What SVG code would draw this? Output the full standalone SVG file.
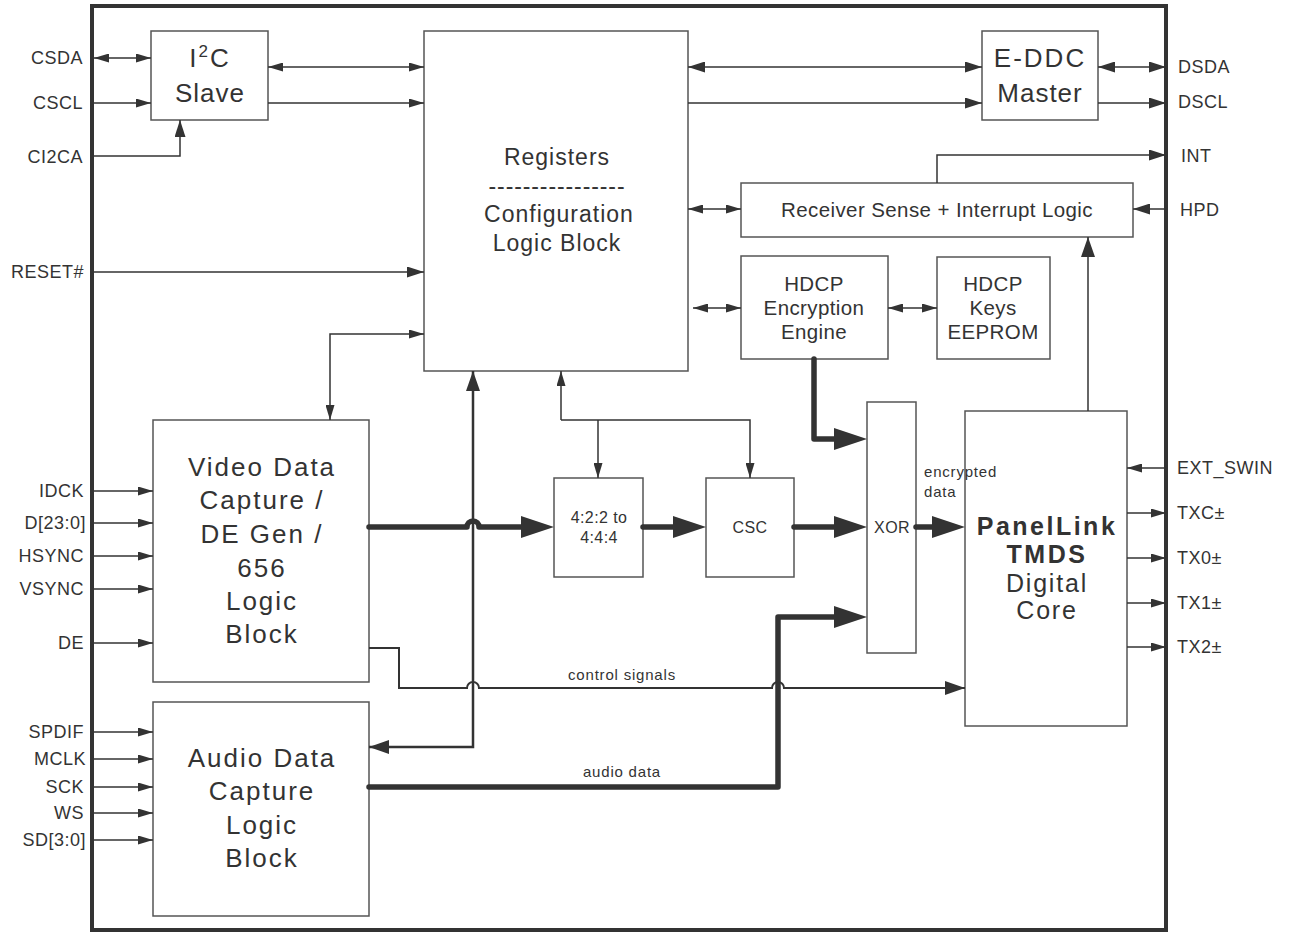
<svg xmlns="http://www.w3.org/2000/svg" width="1290" height="933" viewBox="0 0 1290 933">
<defs>
<style>
text{font-family:"Liberation Sans",Arial,sans-serif;fill:#333}
.lbl{font-size:18px;letter-spacing:0.5px}
.big{font-size:26px;letter-spacing:2px}
.reg{font-size:23px;letter-spacing:1px}
.mid{font-size:20.5px;letter-spacing:0.4px}
.sm{font-size:16px;letter-spacing:0.4px}
.tiny{font-size:15px;letter-spacing:0.8px}
.pb{font-size:25px;font-weight:bold;letter-spacing:2.5px}
.pn{font-size:25px;letter-spacing:1.8px}
.box{fill:#fff;stroke:#555;stroke-width:1.5}
.frame{fill:none;stroke:#333;stroke-width:4}
.t{fill:none;stroke:#333;stroke-width:1.5}
.c{fill:none;stroke:#333;stroke-width:2}
.m{fill:none;stroke:#333;stroke-width:2.5}
.k{fill:none;stroke:#333;stroke-width:5.5;stroke-linecap:round;stroke-linejoin:round}
</style>
<marker id="s" markerUnits="userSpaceOnUse" markerWidth="15" markerHeight="9" refX="15" refY="4.5" orient="auto-start-reverse"><path d="M0,0 L15,4.5 L0,9 z" fill="#333"/></marker>
<marker id="b" markerUnits="userSpaceOnUse" markerWidth="17" markerHeight="11" refX="17" refY="5.5" orient="auto-start-reverse"><path d="M0,0 L17,5.5 L0,11 z" fill="#333"/></marker>
<marker id="m" markerUnits="userSpaceOnUse" markerWidth="20" markerHeight="14" refX="20" refY="7" orient="auto-start-reverse"><path d="M0,0 L20,7 L0,14 z" fill="#333"/></marker>
<marker id="L" markerUnits="userSpaceOnUse" markerWidth="33" markerHeight="22" refX="3" refY="11" orient="auto-start-reverse"><path d="M0,0 L33,11 L0,22 z" fill="#333"/></marker>
</defs>
<rect width="1290" height="933" fill="#fff"/>
<rect class="frame" x="92" y="6" width="1074" height="924"/>

<g id="i2c">
<rect class="box" x="151" y="31" width="117" height="89"/>
<text class="big" x="210" y="67" text-anchor="middle">I<tspan font-size="17" dy="-10">2</tspan><tspan dy="10">C</tspan></text>
<text class="big" x="210" y="102" text-anchor="middle" style="letter-spacing:1px">Slave</text>
</g>
<g id="registers">
<rect class="box" x="424" y="31" width="264" height="340"/>
<text class="reg" x="557" y="165" text-anchor="middle">Registers</text>
<text class="reg" x="557" y="194" text-anchor="middle" style="letter-spacing:0.9px">----------------</text>
<text class="reg" x="559" y="222" text-anchor="middle">Configuration</text>
<text class="reg" x="557" y="251" text-anchor="middle">Logic Block</text>
</g>
<g id="eddc">
<rect class="box" x="982" y="31" width="116" height="89"/>
<text class="big" x="1040" y="67" text-anchor="middle">E-DDC</text>
<text class="big" x="1040" y="102" text-anchor="middle" style="letter-spacing:1px">Master</text>
</g>
<g id="receiver">
<rect class="box" x="741" y="183" width="392" height="54"/>
<text class="mid" x="937" y="217" text-anchor="middle">Receiver Sense + Interrupt Logic</text>
</g>
<g id="hdcp-engine">
<rect class="box" x="741" y="256" width="147" height="103"/>
<text class="mid" x="814" y="291" text-anchor="middle">HDCP</text>
<text class="mid" x="814" y="315" text-anchor="middle">Encryption</text>
<text class="mid" x="814" y="339" text-anchor="middle">Engine</text>
</g>
<g id="hdcp-keys">
<rect class="box" x="937" y="257" width="113" height="102"/>
<text class="mid" x="993" y="291" text-anchor="middle">HDCP</text>
<text class="mid" x="993" y="315" text-anchor="middle">Keys</text>
<text class="mid" x="993" y="339" text-anchor="middle">EEPROM</text>
</g>
<g id="video">
<rect class="box" x="153" y="420" width="216" height="262"/>
<text class="big" x="262" y="476" text-anchor="middle">Video Data</text>
<text class="big" x="262" y="509" text-anchor="middle">Capture /</text>
<text class="big" x="262" y="543" text-anchor="middle">DE Gen /</text>
<text class="big" x="262" y="577" text-anchor="middle">656</text>
<text class="big" x="262" y="610" text-anchor="middle">Logic</text>
<text class="big" x="262" y="643" text-anchor="middle">Block</text>
</g>
<g id="audio">
<rect class="box" x="153" y="702" width="216" height="214"/>
<text class="big" x="262" y="767" text-anchor="middle">Audio Data</text>
<text class="big" x="262" y="800" text-anchor="middle">Capture</text>
<text class="big" x="262" y="834" text-anchor="middle">Logic</text>
<text class="big" x="262" y="867" text-anchor="middle">Block</text>
</g>
<g id="conv422">
<rect class="box" x="554" y="478" width="89" height="99"/>
<text class="sm" x="599" y="523" text-anchor="middle">4:2:2 to</text>
<text class="sm" x="599" y="543" text-anchor="middle">4:4:4</text>
</g>
<g id="csc">
<rect class="box" x="706" y="478" width="88" height="99"/>
<text class="sm" x="750" y="533" text-anchor="middle">CSC</text>
</g>
<g id="xor">
<rect class="box" x="867" y="402" width="49" height="251"/>
<text class="sm" x="892" y="533" text-anchor="middle">XOR</text>
</g>
<g id="panellink">
<rect class="box" x="965" y="411" width="162" height="315"/>
<text class="pb" x="1047" y="535" text-anchor="middle">PanelLink</text>
<text class="pb" x="1047" y="563" text-anchor="middle">TMDS</text>
<text class="pn" x="1047" y="592" text-anchor="middle">Digital</text>
<text class="pn" x="1047" y="619" text-anchor="middle">Core</text>
</g>

<g id="connectors">
<path class="t" d="M94,58 H151" marker-start="url(#s)" marker-end="url(#s)"/>
<path class="t" d="M94,103 H151" marker-end="url(#s)"/>
<path class="t" d="M94,156 H180 V120" marker-end="url(#b)"/>
<path class="t" d="M268,67 H424" marker-start="url(#s)" marker-end="url(#s)"/>
<path class="t" d="M268,103 H424" marker-end="url(#s)"/>
<path class="t" d="M94,272 H424" marker-end="url(#b)"/>
<path class="t" d="M688,67 H982" marker-start="url(#b)" marker-end="url(#b)"/>
<path class="t" d="M688,103 H982" marker-end="url(#b)"/>
<path class="t" d="M1098,67 H1166" marker-start="url(#b)" marker-end="url(#b)"/>
<path class="t" d="M1098,103 H1166" marker-end="url(#b)"/>
<path class="t" d="M937,183 V155 H1166" marker-end="url(#b)"/>
<path class="t" d="M1166,209 H1133" marker-end="url(#b)"/>
<path class="t" d="M688,209 H741" marker-start="url(#s)" marker-end="url(#s)"/>
<path class="t" d="M693,308 H741" marker-start="url(#s)" marker-end="url(#s)"/>
<path class="t" d="M888,308 H937" marker-start="url(#s)" marker-end="url(#s)"/>
<path class="t" d="M1088,411 V237" marker-end="url(#m)"/>
<path class="t" d="M424,334 H330 V420" marker-start="url(#s)" marker-end="url(#s)"/>
<path class="t" d="M561,420 V371" marker-end="url(#s)"/>
<path class="t" d="M561,420 H750 V478" marker-end="url(#s)"/>
<path class="t" d="M598,420 V478" marker-end="url(#s)"/>
<path class="t" d="M94,491 H153" marker-end="url(#s)"/>
<path class="t" d="M94,523 H153" marker-end="url(#s)"/>
<path class="t" d="M94,556 H153" marker-end="url(#s)"/>
<path class="t" d="M94,589 H153" marker-end="url(#s)"/>
<path class="t" d="M94,643 H153" marker-end="url(#s)"/>
<path class="t" d="M94,732 H153" marker-end="url(#s)"/>
<path class="t" d="M94,759 H153" marker-end="url(#s)"/>
<path class="t" d="M94,787 H153" marker-end="url(#s)"/>
<path class="t" d="M94,813 H153" marker-end="url(#s)"/>
<path class="t" d="M94,840 H153" marker-end="url(#s)"/>
<path class="t" d="M1166,468 H1127" marker-end="url(#s)"/>
<path class="t" d="M1127,513 H1166" marker-end="url(#s)"/>
<path class="t" d="M1127,558 H1166" marker-end="url(#s)"/>
<path class="t" d="M1127,603 H1166" marker-end="url(#s)"/>
<path class="t" d="M1127,647 H1166" marker-end="url(#s)"/>
<path class="c" d="M369,648 H399 V688 H467 A6,6 0 0 1 479,688 H772 A6,6 0 0 1 784,688 H965" marker-end="url(#m)"/>
<path class="m" d="M369,747 H473 V371" marker-start="url(#m)" marker-end="url(#m)"/>
<path class="k" d="M369,527 H467 A6,6 0 0 1 479,527 H524" marker-end="url(#L)"/>
<path class="k" d="M643,527 H676" marker-end="url(#L)"/>
<path class="k" d="M794,527 H837" marker-end="url(#L)"/>
<path class="k" d="M916,527 H935" marker-end="url(#L)"/>
<path class="k" d="M814,359 V439 H837" marker-end="url(#L)"/>
<path class="k" d="M369,787 H778 V617 H837" marker-end="url(#L)"/>
<text class="tiny" x="622" y="680" text-anchor="middle">control signals</text>
<text class="tiny" x="622" y="777" text-anchor="middle">audio data</text>
<text class="tiny" x="924" y="477">encrypted</text>
<text class="tiny" x="924" y="497">data</text>
</g>

<g id="pins">
<text class="lbl" x="83" y="64" text-anchor="end">CSDA</text>
<text class="lbl" x="83" y="109" text-anchor="end">CSCL</text>
<text class="lbl" x="83" y="163" text-anchor="end">CI2CA</text>
<text class="lbl" x="84" y="278" text-anchor="end">RESET#</text>
<text class="lbl" x="84" y="497" text-anchor="end">IDCK</text>
<text class="lbl" x="86" y="529" text-anchor="end">D[23:0]</text>
<text class="lbl" x="84" y="562" text-anchor="end">HSYNC</text>
<text class="lbl" x="84" y="595" text-anchor="end">VSYNC</text>
<text class="lbl" x="84" y="649" text-anchor="end">DE</text>
<text class="lbl" x="84" y="738" text-anchor="end">SPDIF</text>
<text class="lbl" x="86" y="765" text-anchor="end">MCLK</text>
<text class="lbl" x="84" y="793" text-anchor="end">SCK</text>
<text class="lbl" x="84" y="819" text-anchor="end">WS</text>
<text class="lbl" x="86" y="846" text-anchor="end">SD[3:0]</text>
<text class="lbl" x="1178" y="73">DSDA</text>
<text class="lbl" x="1178" y="108">DSCL</text>
<text class="lbl" x="1181" y="162">INT</text>
<text class="lbl" x="1180" y="216">HPD</text>
<text class="lbl" x="1177" y="474">EXT_SWIN</text>
<text class="lbl" x="1177" y="519">TXC±</text>
<text class="lbl" x="1177" y="564">TX0±</text>
<text class="lbl" x="1177" y="609">TX1±</text>
<text class="lbl" x="1177" y="653">TX2±</text>
</g>
</svg>
